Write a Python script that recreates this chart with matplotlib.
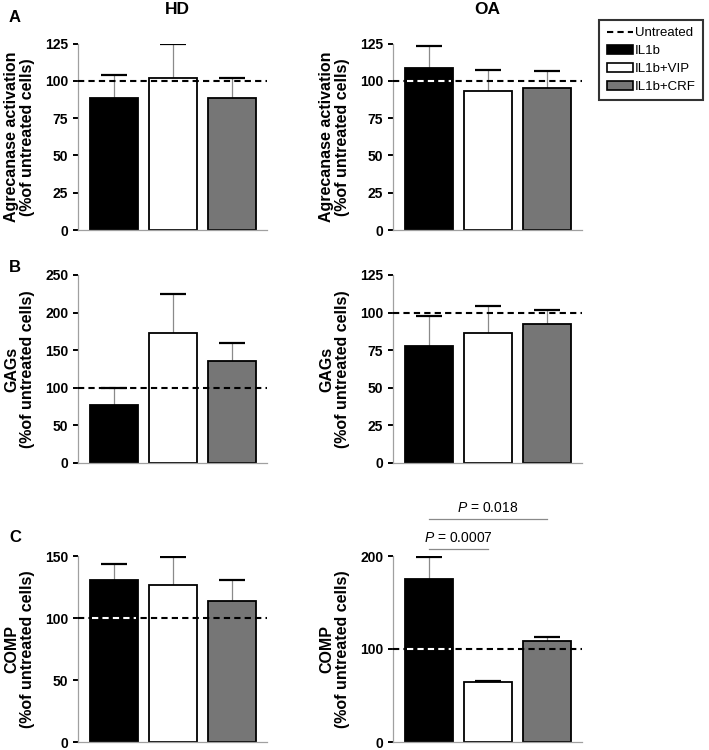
import numpy as np
import matplotlib
matplotlib.use('Agg')
import matplotlib.pyplot as plt
from matplotlib.lines import Line2D
from matplotlib.patches import Patch

plt.rcParams['font.family'] = ['Liberation Sans', 'DejaVu Sans']
plt.rcParams['mathtext.fontset'] = 'custom'
plt.rcParams['mathtext.it'] = 'Liberation Sans:italic'
plt.rcParams['mathtext.rm'] = 'Liberation Sans'

# data
groups = ['IL1b', 'IL1b+VIP', 'IL1b+CRF']
colors = ['#000000', '#ffffff', '#767676']

agg_hd = [88.4, 102.0, 88.2]
agg_hd_err = [15.2, 22.7, 13.6]
agg_oa = [108.5, 93.4, 95.2]
agg_oa_err = [14.5, 13.6, 11.7]

gag_hd = [76.7, 173.0, 136.0]
gag_hd_err = [23.3, 51.7, 23.6]
gag_oa = [77.8, 86.2, 92.4]
gag_oa_err = [19.9, 18.2, 9.3]

comp_hd = [130.3, 126.5, 113.6]
comp_hd_err = [13.3, 22.7, 17.0]
comp_oa = [175.2, 64.2, 108.8]
comp_oa_err = [23.4, 1.2, 4.6]

untreated = 100

ticks_a = [0, 25, 50, 75, 100, 125]
ticks_b_hd = [0, 50, 100, 150, 200, 250]
ticks_c_hd = [0, 50, 100, 150]
ticks_c_oa = [0, 100, 200]

lab_a = 'Agrecanase activation\n(%of untreated cells)'
lab_b = 'GAGs\n(%of untreated cells)'
lab_c = 'COMP\n(%of untreated cells)'

W, H = 709, 750
fig = plt.figure(figsize=(W / 100, H / 100), dpi=100)

def fbox(x0, x1, ytop, ybot):
    return [x0 / W, 1 - ybot / H, (x1 - x0) / W, (ybot - ytop) / H]

dash = (0, (3, 2))
bw = 0.82

def panel(rect, vals, errs, yticks, ylabel):
    ax = fig.add_axes(rect)
    x = np.arange(len(vals))
    ax.bar(x, vals, bw, color=colors, edgecolor='black', linewidth=1.3, zorder=2)
    top = np.array(vals) + np.array(errs)
    ax.vlines(x, vals, top, color='#8a8a8a', linewidth=0.9, zorder=1)
    ax.hlines(top, x - 0.22, x + 0.22, color='black', linewidth=1.6, zorder=3)
    ax.axhline(untreated, color='black', linestyle=dash, linewidth=1.5, zorder=4)
    # dashed line shows white over black bars
    for xi, v, c in zip(x, vals, colors):
        if c == '#000000' and v > untreated:
            ax.hlines(untreated, xi - bw / 2 + 0.03, xi + bw / 2 - 0.03, color='white',
                      linestyle=dash, linewidth=1.5, zorder=5)
    ax.set_xlim(-0.61, 2.6)
    ax.set_ylim(0, yticks[-1])
    ax.set_yticks(yticks)
    ax.set_xticks([])
    for s in ['top', 'right']:
        ax.spines[s].set_visible(False)
    for s in ['left', 'bottom']:
        ax.spines[s].set_color('#a0a0a0')
        ax.spines[s].set_linewidth(0.9)
    ax.tick_params(axis='y', length=3.5, width=1.4, color='black', pad=3.5, labelsize=10)
    for t in ax.get_yticklabels():
        t.set_fontweight('bold')
    ax.set_ylabel(ylabel, fontsize=11.5, fontweight='bold', linespacing=1.1)
    ax.yaxis.set_label_coords(-0.225, 0.5)
    return ax

L0, L1 = 78, 267
R0, R1 = 393, 582

axA1 = panel(fbox(L0, L1, 43.5, 230), agg_hd, agg_hd_err, ticks_a, lab_a)
axA2 = panel(fbox(R0, R1, 43.5, 230), agg_oa, agg_oa_err, ticks_a, lab_a)
axB1 = panel(fbox(L0, L1, 275, 463), gag_hd, gag_hd_err, ticks_b_hd, lab_b)
axB2 = panel(fbox(R0, R1, 275, 463), gag_oa, gag_oa_err, ticks_a, lab_b)
axC1 = panel(fbox(L0, L1, 556, 742), comp_hd, comp_hd_err, ticks_c_hd, lab_c)
axC2 = panel(fbox(R0, R1, 556, 742), comp_oa, comp_oa_err, ticks_c_oa, lab_c)

# p-value brackets
axC2.plot([0, 1], [207.5, 207.5], color='#8a8a8a', linewidth=0.9, clip_on=False)
axC2.text(0.5, 212, '$P$ = 0.0007', ha='center', va='bottom', fontsize=10)
axC2.plot([0, 2], [239.5, 239.5], color='#8a8a8a', linewidth=0.9, clip_on=False)
axC2.text(1.0, 244, '$P$ = 0.018', ha='center', va='bottom', fontsize=10)

# titles and panel letters
fig.text(177 / W, 1 - 9 / H, 'HD', ha='center', va='center', fontsize=12.5, fontweight='bold')
fig.text(487 / W, 1 - 9 / H, 'OA', ha='center', va='center', fontsize=12.5, fontweight='bold')
fig.text(15 / W, 1 - 18 / H, 'A', ha='center', va='center', fontsize=12, fontweight='bold')
fig.text(15 / W, 1 - 267 / H, 'B', ha='center', va='center', fontsize=12, fontweight='bold')
fig.text(15 / W, 1 - 537 / H, 'C', ha='center', va='center', fontsize=12, fontweight='bold')

handles = [Line2D([], [], color='black', linestyle=dash, linewidth=1.5)]
handles += [Patch(facecolor=c, edgecolor='black', linewidth=1.2) for c in colors]
leg = fig.legend(handles, ['Untreated'] + groups, loc='upper right',
                 bbox_to_anchor=(703 / W, 1 - 20 / H), fontsize=9.5, frameon=True,
                 fancybox=False, edgecolor='black', handlelength=2.0, handleheight=0.6,
                 handletextpad=0.15, labelspacing=0.45, borderpad=0.55, borderaxespad=0)
leg.get_frame().set_linewidth(1.5)

fig.savefig('out.png', dpi=100)
